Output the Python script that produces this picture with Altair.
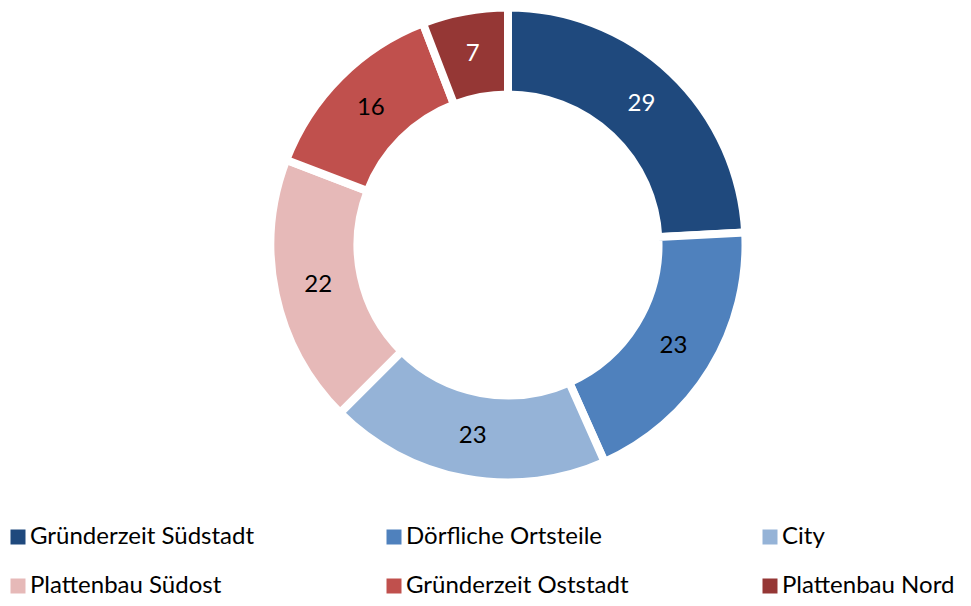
import altair as alt
import pandas as pd

categories = ["Gründerzeit Südstadt", "Dörfliche Ortsteile", "City",
              "Plattenbau Südost", "Gründerzeit Oststadt", "Plattenbau Nord"]
values = [29, 23, 23, 22, 16, 7]
colors = ["#1F497D", "#4F81BD", "#95B3D7", "#E6B9B8", "#C0504D", "#953735"]
label_colors = ["white", "black", "black", "black", "black", "white"]

df = pd.DataFrame({
    "cat": categories,
    "value": values,
    "order": list(range(len(categories))),
    "lc": label_colors,
})

FONT = "Lato"
cx, cy = 500, 237

base = alt.Chart(df).encode(
    theta=alt.Theta("value:Q", stack=True),
    order=alt.Order("order:Q", sort="ascending"),
    x=alt.value(cx),
    y=alt.value(cy),
)

arcs = base.mark_arc(outerRadius=237.5, innerRadius=150.5, stroke="white", strokeWidth=8).encode(
    color=alt.Color(
        "cat:N",
        scale=alt.Scale(domain=categories, range=colors),
        legend=alt.Legend(
            title=None,
            orient="none",
            legendX=-2,
            legendY=517,
            direction="horizontal",
            columns=3,
            gridAlign="all",
            columnPadding=127,
            rowPadding=25,
            symbolType="square",
            symbolSize=225,
            symbolStrokeWidth=0,
            labelFont=FONT,
            labelFontSize=24,
            labelColor="black",
            labelOffset=0,
            labelLimit=400,
        ),
    )
)

labels = base.mark_text(radius=194, font=FONT, fontSize=24).encode(
    text=alt.Text("value:Q"),
    color=alt.Color("lc:N", scale=None),
)

chart = alt.layer(arcs, labels).properties(
    width=955, height=590,
    autosize=alt.AutoSizeParams(type="none"),
    padding=0,
).configure_view(stroke=None)

chart.save("out.html", embed_options={"renderer": "svg", "actions": False})
